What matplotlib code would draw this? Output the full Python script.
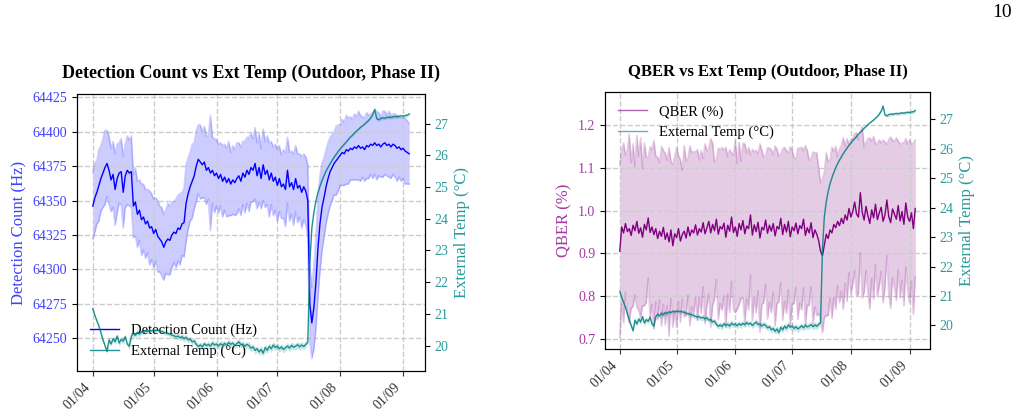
import numpy as np
import pandas as pd
import matplotlib
matplotlib.use("Agg")
import matplotlib.pyplot as plt
import matplotlib.dates as mdates

plt.rcParams.update({"font.family": "serif", "font.serif": ["Liberation Serif", "DejaVu Serif"],
                     "font.size": 10})

# daily samples, 1 Apr .. 4 Sep
dates = pd.date_range("2024-04-01", periods=157, freq="D")

det_mean = [
    64346, 64352, 64356, 64361, 64366, 64370, 64374, 64377, 64372, 64365,
    64369, 64358, 64366, 64370, 64371, 64356, 64368, 64372, 64370, 64371,
    64346, 64349, 64340, 64343, 64336, 64338, 64333, 64335, 64330, 64331,
    64326, 64329, 64324, 64322, 64320, 64316, 64320, 64322, 64321, 64325,
    64327, 64326, 64330, 64329, 64333, 64334, 64348, 64355, 64360, 64364,
    64368, 64375, 64380, 64378, 64376, 64378, 64372, 64374, 64370, 64372,
    64368, 64370, 64366, 64369, 64364, 64367, 64363, 64366, 64362, 64365,
    64363, 64366, 64368, 64364, 64370, 64367, 64372, 64369, 64374, 64372,
    64377, 64368, 64374, 64366, 64376, 64369, 64372, 64365, 64370, 64364,
    64367, 64361, 64366, 64360, 64362, 64358, 64372, 64360, 64363, 64358,
    64366, 64359, 64361, 64356, 64360, 64357, 64350, 64275, 64261, 64272,
    64290, 64315, 64333, 64345, 64352, 64360, 64366, 64371, 64374, 64377,
    64379, 64381, 64383, 64385, 64384, 64387, 64386, 64388, 64387, 64389,
    64388, 64390, 64388, 64389, 64387, 64390, 64389, 64391, 64390, 64392,
    64390, 64391, 64389, 64391, 64392, 64390, 64391, 64389, 64391, 64390,
    64388, 64389, 64387, 64388, 64386, 64385, 64384,
]
det_std = [
    24, 25, 23, 26, 24, 25, 27, 24, 25, 23,
    24, 26, 25, 22, 24, 26, 23, 25, 24, 26,
    23, 25, 24, 22, 26, 24, 25, 23, 27, 24,
    25, 23, 26, 24, 25, 24, 23, 26, 25, 24,
    22, 25, 24, 26, 23, 25, 28, 26, 25, 27,
    24, 26, 25, 27, 24, 26, 25, 23, 42, 24,
    27, 24, 25, 23, 26, 24, 25, 27, 23, 25,
    24, 26, 24, 25, 23, 26, 24, 27, 25, 23,
    26, 24, 25, 22, 26, 24, 25, 27, 23, 25,
    24, 26, 24, 23, 25, 27, 24, 25, 23, 26,
    24, 25, 23, 26, 24, 25, 26, 28, 26, 30,
    34, 36, 35, 32, 29, 27, 26, 25, 24, 23,
    25, 24, 22, 24, 23, 25, 24, 23, 22, 24,
    23, 25, 24, 22, 23, 24, 23, 22, 24, 23,
    25, 23, 22, 24, 23, 22, 24, 23, 22, 23,
    24, 22, 23, 22, 24, 23, 22,
]
temp = [
    21.16, 20.95, 20.78, 20.62, 20.40, 20.18, 20.00, 19.82, 20.18, 20.05,
    20.22, 20.12, 20.30, 20.08, 20.20, 20.14, 20.28, 20.05, 19.98, 20.30,
    20.38, 20.32, 20.42, 20.36, 20.44, 20.40, 20.46, 20.44, 20.48, 20.46,
    20.49, 20.47, 20.48, 20.46, 20.45, 20.42, 20.40, 20.38, 20.36, 20.33,
    20.31, 20.28, 20.30, 20.25, 20.28, 20.22, 20.26, 20.18, 20.20, 20.12,
    20.15, 20.04, 19.97, 20.02, 19.96, 20.06, 20.00, 20.04, 19.98, 20.08,
    20.02, 20.05, 19.99, 20.06, 20.01, 20.07, 20.02, 20.10, 20.04, 20.08,
    20.00, 20.06, 20.12, 20.03, 20.05, 19.98, 20.04, 20.00, 19.92, 19.96,
    19.85, 19.90, 19.80, 19.88, 19.76, 19.94, 19.85, 19.98, 19.90, 20.02,
    19.94, 19.98, 19.90, 19.96, 19.88, 19.93, 19.99, 19.92, 20.01, 19.95,
    19.98, 20.03, 19.96, 20.02, 19.97, 20.04, 20.10, 22.60, 23.70, 24.20,
    24.55, 24.82, 25.02, 25.20, 25.36, 25.50, 25.62, 25.73, 25.84, 25.94,
    26.03, 26.12, 26.20, 26.28, 26.35, 26.42, 26.50, 26.57, 26.63, 26.70,
    26.76, 26.82, 26.88, 26.93, 26.98, 27.04, 27.10, 27.18, 27.28, 27.45,
    27.15, 27.12, 27.16, 27.18, 27.17, 27.19, 27.20, 27.19, 27.21, 27.22,
    27.21, 27.23, 27.24, 27.23, 27.25, 27.26, 27.30,
]
temp_std = [
    0.05, 0.06, 0.05, 0.07, 0.06, 0.08, 0.07, 0.09, 0.10, 0.08,
    0.09, 0.10, 0.08, 0.11, 0.09, 0.10, 0.08, 0.09, 0.11, 0.10,
    0.09, 0.08, 0.10, 0.09, 0.07, 0.08, 0.07, 0.06, 0.07, 0.06,
    0.06, 0.05, 0.06, 0.07, 0.06, 0.07, 0.08, 0.07, 0.08, 0.09,
    0.08, 0.09, 0.10, 0.09, 0.11, 0.10, 0.09, 0.10, 0.08, 0.09,
    0.10, 0.11, 0.09, 0.10, 0.12, 0.10, 0.09, 0.11, 0.10, 0.12,
    0.10, 0.09, 0.11, 0.10, 0.12, 0.09, 0.10, 0.11, 0.10, 0.09,
    0.11, 0.10, 0.12, 0.10, 0.09, 0.11, 0.10, 0.12, 0.11, 0.10,
    0.12, 0.10, 0.11, 0.13, 0.10, 0.12, 0.11, 0.10, 0.12, 0.11,
    0.10, 0.12, 0.11, 0.10, 0.12, 0.11, 0.10, 0.11, 0.12, 0.10,
    0.11, 0.10, 0.12, 0.11, 0.10, 0.11, 0.06, 0.05, 0.04, 0.04,
    0.03, 0.03, 0.03, 0.03, 0.03, 0.03, 0.03, 0.03, 0.03, 0.03,
    0.03, 0.03, 0.03, 0.03, 0.03, 0.03, 0.03, 0.03, 0.03, 0.03,
    0.03, 0.03, 0.03, 0.03, 0.03, 0.03, 0.04, 0.04, 0.05, 0.05,
    0.06, 0.05, 0.06, 0.05, 0.06, 0.05, 0.06, 0.05, 0.06, 0.05,
    0.06, 0.05, 0.06, 0.05, 0.06, 0.05, 0.06,
]
qber = [
    0.905, 0.962, 0.948, 0.970, 0.951, 0.958, 0.942, 0.966, 0.953, 0.975,
    0.947, 0.960, 0.938, 0.968, 0.955, 0.983, 0.949, 0.962, 0.944, 0.958,
    0.935, 0.952, 0.940, 0.961, 0.933, 0.948, 0.927, 0.955, 0.918, 0.946,
    0.937, 0.958, 0.929, 0.944, 0.952, 0.936, 0.962, 0.941, 0.955, 0.948,
    0.967, 0.943, 0.958, 0.950, 0.972, 0.946, 0.960, 0.975, 0.948, 0.968,
    0.953, 0.980, 0.945, 0.963, 0.957, 0.971, 0.938, 0.966, 0.952, 0.985,
    0.949, 0.962, 0.940, 0.970, 0.955, 0.977, 0.946, 0.964, 0.958, 0.990,
    0.943, 0.967, 0.951, 0.973, 0.936, 0.961, 0.955, 0.978, 0.947, 0.966,
    0.952, 0.970, 0.941, 0.963, 0.957, 0.982, 0.944, 0.968, 0.950, 0.975,
    0.939, 0.962, 0.953, 0.971, 0.946, 0.965, 0.958, 0.980, 0.942, 0.960,
    0.948, 0.972, 0.937, 0.955, 0.945, 0.930, 0.905, 0.895, 0.920, 0.945,
    0.935, 0.955, 0.948, 0.968, 0.960, 0.975, 0.965, 0.982, 0.970, 0.990,
    0.978, 1.005, 0.985, 0.998, 1.020, 0.992, 0.985, 1.042, 0.996, 0.978,
    1.010, 0.988, 0.970, 1.002, 0.983, 1.015, 0.979, 0.995, 1.008, 0.975,
    0.990, 1.025, 0.986, 0.972, 1.004, 0.992, 0.980, 1.012, 0.976, 0.998,
    0.968, 1.018, 0.985, 0.975, 0.995, 0.958, 1.005,
]
qber_std = [
    0.20, 0.18, 0.21, 0.16, 0.19, 0.22, 0.17, 0.19, 0.15, 0.20,
    0.18, 0.21, 0.16, 0.19, 0.17, 0.14, 0.20, 0.18, 0.22, 0.17,
    0.19, 0.16, 0.21, 0.18, 0.20, 0.17, 0.22, 0.16, 0.19, 0.18,
    0.21, 0.17, 0.19, 0.15, 0.20, 0.18, 0.16, 0.21, 0.18, 0.19,
    0.17, 0.20, 0.16, 0.19, 0.15, 0.21, 0.18, 0.17, 0.22, 0.19,
    0.16, 0.14, 0.20, 0.18, 0.19, 0.17, 0.21, 0.16, 0.19, 0.15,
    0.18, 0.20, 0.17, 0.19, 0.16, 0.18, 0.21, 0.17, 0.19, 0.14,
    0.20, 0.17, 0.19, 0.16, 0.22, 0.18, 0.17, 0.15, 0.20, 0.18,
    0.19, 0.16, 0.21, 0.18, 0.17, 0.15, 0.20, 0.18, 0.19, 0.16,
    0.21, 0.18, 0.17, 0.15, 0.20, 0.18, 0.19, 0.16, 0.21, 0.18,
    0.17, 0.15, 0.20, 0.18, 0.19, 0.17, 0.16, 0.18, 0.17, 0.19,
    0.18, 0.16, 0.20, 0.17, 0.19, 0.15, 0.18, 0.17, 0.20, 0.16,
    0.19, 0.15, 0.18, 0.17, 0.16, 0.19, 0.18, 0.14, 0.20, 0.17,
    0.15, 0.18, 0.20, 0.16, 0.19, 0.14, 0.18, 0.17, 0.15, 0.19,
    0.17, 0.13, 0.18, 0.20, 0.16, 0.17, 0.19, 0.15, 0.18, 0.16,
    0.19, 0.15, 0.17, 0.19, 0.16, 0.20, 0.16,
]

det_mean = np.array(det_mean, float)
det_std = np.array(det_std, float)
temp = np.array(temp)
temp_std = np.array(temp_std)
qber = np.array(qber)
qber_std = np.array(qber_std)

C_DET, C_TEMP, C_QBER = "blue", "teal", "purple"

fig = plt.figure(figsize=(10.17, 4.2), dpi=100)
fig.text(0.995, 0.99, "10", fontsize=14, ha="right", va="top")


def temp_twin(ax):
    ax2 = ax.twinx()
    ax2.fill_between(dates, temp - temp_std, temp + temp_std, color=C_TEMP, alpha=0.2, lw=0)
    ln, = ax2.plot(dates, temp, color=C_TEMP, lw=1.0, alpha=0.85, label="External Temp (°C)")
    ax2.set_ylim(19.2, 27.93)
    ax2.set_ylabel("External Temp (°C)", color="#2a9a9a", fontsize=12)
    ax2.tick_params(axis="y", labelcolor="#2a9a9a", labelsize=10)
    return ax2, ln


def date_axis(ax):
    ax.xaxis.set_major_locator(mdates.MonthLocator())
    ax.xaxis.set_major_formatter(mdates.DateFormatter("%d/%m"))
    for lab in ax.get_xticklabels():
        lab.set_rotation(45)
        lab.set_ha("right")
    ax.grid(True, ls="--", color="0.8", lw=1.0)
    ax.tick_params(axis="x", labelsize=10, colors="0.2")


# left: detection count
axL = fig.add_axes([0.0757, 0.1167, 0.3422, 0.6595])
axL.fill_between(dates, det_mean - det_std, det_mean + det_std, color=C_DET, alpha=0.2, lw=0)
axL.plot(dates, det_mean + det_std, color=C_DET, alpha=0.18, lw=1.2)
axL.plot(dates, det_mean - det_std, color=C_DET, alpha=0.18, lw=1.2)
l1, = axL.plot(dates, det_mean, color=C_DET, lw=1.0, label="Detection Count (Hz)")
axL.set_ylim(64226, 64427.5)
axL.set_yticks([64250, 64275, 64300, 64325, 64350, 64375, 64400, 64425])
axL.set_ylabel("Detection Count (Hz)", color="#4040ff", fontsize=12)
axL.tick_params(axis="y", labelcolor="#4040ff", labelsize=10)
axL.set_title("Detection Count vs Ext Temp (Outdoor, Phase II)", fontsize=13, fontweight="bold", pad=11.5)
date_axis(axL)
axL2, l2 = temp_twin(axL)
axL.legend([l1, l2], [l1.get_label(), l2.get_label()], loc="lower left", frameon=False, fontsize=10.5)

# right: QBER
axR = fig.add_axes([0.5949, 0.169, 0.3196, 0.612])
axR.fill_between(dates, qber - qber_std, qber + qber_std, color=C_QBER, alpha=0.2, lw=0)
axR.plot(dates, qber + qber_std, color=C_QBER, alpha=0.2, lw=1.2)
axR.plot(dates, qber - qber_std, color=C_QBER, alpha=0.2, lw=1.2)
r1, = axR.plot(dates, qber, color=C_QBER, lw=1.0, label="QBER (%)")
axR.set_ylim(0.677, 1.277)
axR.set_yticks([0.7, 0.8, 0.9, 1.0, 1.1, 1.2])
axR.set_ylabel("QBER (%)", color="#a53aa5", fontsize=12)
axR.tick_params(axis="y", labelcolor="#a53aa5", labelsize=10)
axR.set_title("QBER vs Ext Temp (Outdoor, Phase II)", fontsize=12, fontweight="bold", pad=11.5)
date_axis(axR)
axR2, r2 = temp_twin(axR)
leg = axR.legend([r1, r2], [r1.get_label(), r2.get_label()], loc="upper left", frameon=False, fontsize=10.5)
for h in leg.legend_handles:
    h.set_alpha(0.6)

fig.savefig("out.png", dpi=100)
